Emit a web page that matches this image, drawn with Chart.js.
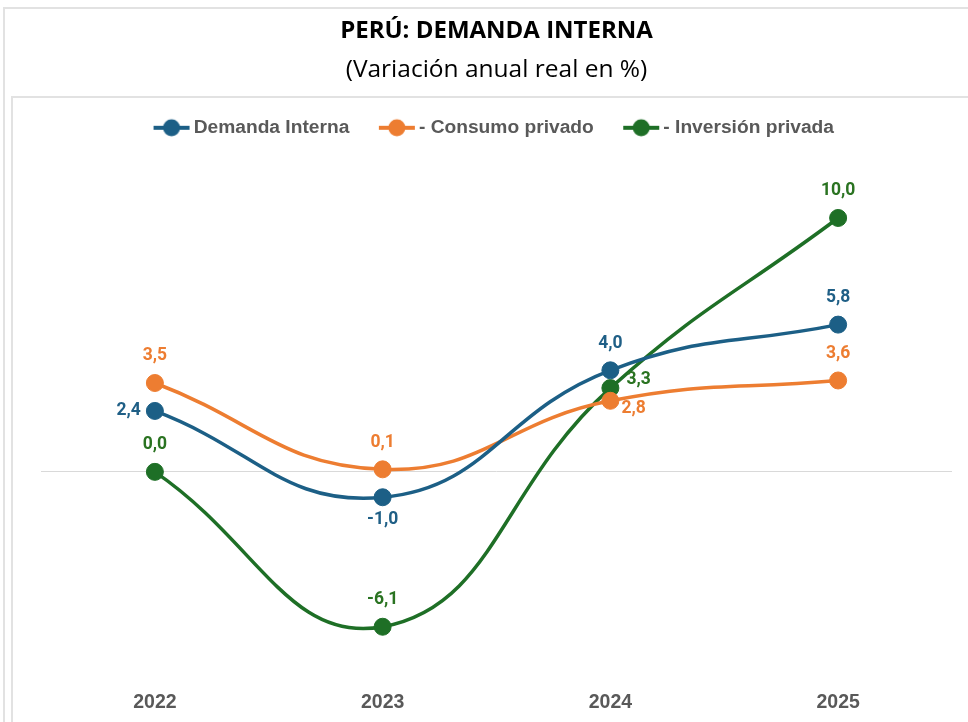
<!DOCTYPE html>
<html><head><meta charset="utf-8">
<script src="https://cdn.jsdelivr.net/npm/chart.js@4.4.1/dist/chart.umd.min.js"></script>
<style>
html,body{margin:0;padding:0;background:#fff;overflow:hidden;}
#wrap{position:relative;width:968px;height:722px;overflow:hidden;}
.frame{position:absolute;border:2px solid #e2e2e2;}
#outer{left:3px;top:7px;width:1200px;height:1200px;}
#inner{left:11px;top:96px;width:1200px;height:1200px;}
canvas{position:absolute;left:0;top:0;}
</style></head>
<body><div id="wrap"><div class="frame" id="outer"></div><div class="frame" id="inner"></div><canvas id="c" width="968" height="722"></canvas></div>
<script>
// ---- data ----
const years = ['2022', '2023', '2024', '2025'];
const demandaInterna = [2.4, -1.0, 4.0, 5.8];
const consumoPrivado = [3.5, 0.1, 2.8, 3.6];
const inversionPrivada = [0.0, -6.1, 3.3, 10.0];
const seriesNames = ['Demanda Interna', '- Consumo privado', '- Inversión privada'];
const titleText = 'PERÚ: DEMANDA INTERNA';
const subtitleText = '(Variación anual real en %)';

// ---- styles ----
const colors = ['#1c5f86', '#ed7d31', '#1e6f26'];
const labelColors = ['#1f5f86', '#ed7d31', '#2a7321'];
const labelPlacement = [
  ['left', 'bottom', 'top', 'top'],
  ['top', 'top', 'rightLow', 'top'],
  ['top', 'top', 'rightHigh', 'top']
];

function legendMarker(color) {
  const c = document.createElement('canvas');
  c.width = 38; c.height = 20;
  const x = c.getContext('2d');
  x.strokeStyle = color; x.lineWidth = 4;
  x.beginPath(); x.moveTo(1, 10); x.lineTo(37, 10); x.stroke();
  x.fillStyle = color;
  x.beginPath(); x.arc(19, 10, 8.5, 0, Math.PI * 2); x.fill();
  return c;
}
const markers = colors.map(legendMarker);

const fmt = v => v.toFixed(1).replace('.', ',');

const dataLabels = {
  id: 'dataLabels',
  afterDatasetsDraw(chart) {
    const ctx = chart.ctx;
    ctx.save();
    ctx.font = 'bold 17.5px Roboto, "Liberation Sans", sans-serif';
    chart.data.datasets.forEach((ds, di) => {
      const meta = chart.getDatasetMeta(di);
      meta.data.forEach((pt, i) => {
        const pos = labelPlacement[di][i];
        let x = pt.x, y = pt.y, align = 'center';
        if (pos === 'top') { y -= 27; }
        else if (pos === 'bottom') { y += 22; }
        else if (pos === 'left') { x -= 14; align = 'right'; }
        else if (pos === 'rightLow') { x += 11; y += 8; align = 'left'; }
        else if (pos === 'rightHigh') { x += 16; y -= 8; align = 'left'; }
        ctx.fillStyle = labelColors[di];
        ctx.textAlign = align;
        ctx.textBaseline = 'middle';
        ctx.fillText(fmt(ds.data[i]), x, y);
      });
    });
    ctx.restore();
  }
};

const seriesData = [demandaInterna, consumoPrivado, inversionPrivada];
const datasets = seriesData.map((d, i) => ({
  label: seriesNames[i],
  data: d,
  borderColor: colors[i],
  backgroundColor: colors[i],
  pointBackgroundColor: colors[i],
  pointBorderColor: colors[i],
  borderWidth: 3.5,
  pointRadius: 8.5,
  pointBorderWidth: 1,
  tension: 0.45,
  clip: false
}));

new Chart(document.getElementById('c'), {
  type: 'line',
  data: { labels: years, datasets },
  options: {
    responsive: false,
    animation: false,
    layout: { padding: { left: 41, right: 16, top: 0, bottom: 0 } },
    plugins: {
      title: {
        display: true, text: titleText, color: '#000',
        font: { family: '"Open Sans", "Liberation Sans", sans-serif', size: 24, weight: 'bold', lineHeight: 1.2 },
        padding: { top: 16.5, bottom: 0 }
      },
      subtitle: {
        display: true, text: subtitleText, color: '#000',
        font: { family: '"Open Sans", "Liberation Sans", sans-serif', size: 24.5, weight: 'normal', lineHeight: 1.2 },
        padding: { top: 10.5, bottom: -2 }
      },
      legend: {
        display: true, position: 'top',
        labels: {
          usePointStyle: true, pointStyleWidth: 25, padding: 35,
          color: '#595959',
          font: { family: '"Liberation Sans", Arial, sans-serif', size: 19.2, weight: 'bold' },
          generateLabels(chart) {
            return Chart.defaults.plugins.legend.labels.generateLabels(chart).map((l, i) => Object.assign(l, { pointStyle: markers[i] }));
          }
        }
      },
      tooltip: { enabled: false }
    },
    scales: {
      x: {
        offset: true,
        grid: { display: false, drawTicks: false },
        border: { display: false },
        ticks: { color: '#595959', padding: 8, font: { family: '"Liberation Sans", Arial, sans-serif', size: 19.5, weight: 'bold' } }
      },
      y: {
        min: -8.3, max: 12.78,
        ticks: { display: false, stepSize: 1 },
        border: { display: false },
        grid: {
          drawTicks: false,
          color: c => (c.tick && c.tick.value === 0) ? '#d9d9d9' : 'rgba(0,0,0,0)',
          lineWidth: 1
        }
      }
    }
  },
  plugins: [dataLabels]
});
</script>
</body></html>
